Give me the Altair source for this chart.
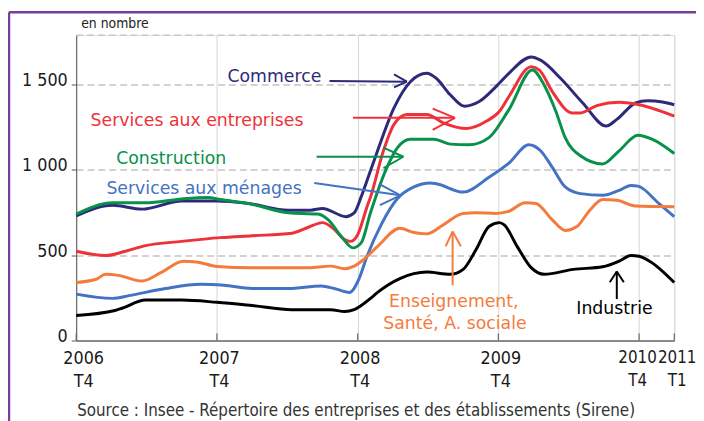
import altair as alt
import pandas as pd

# ---- data (x = months since 2006 T4 / Oct 2006, y = number) ----
commerce_m = [0, 3.1, 5.6, 9, 12, 14.7, 18.1, 20, 21, 23, 23.7, 24.3, 25.1, 25.7, 27.1, 28.5, 29.9, 30.7, 31.9, 33.1, 34.4, 35.8, 36.9, 38.8, 39.6, 41.3, 43.2, 45.2, 46.1, 47.7, 48.7, 50, 51]
commerce_v = [730, 793, 770, 818, 818, 803, 764, 764, 774, 726, 748, 842, 996, 1112, 1363, 1517, 1566, 1537, 1440, 1373, 1402, 1488, 1566, 1662, 1643, 1537, 1392, 1257, 1296, 1392, 1405, 1398, 1382]

entreprises_m = [0, 2.5, 4.2, 5.9, 9, 12.3, 15, 18.4, 19.8, 21, 21.9, 22.9, 23.4, 24, 24.8, 25.1, 26.2, 27.1, 28.2, 29.9, 31.3, 33.3, 35, 36.1, 36.9, 38.8, 39.5, 40.6, 42.3, 43, 44.4, 46.3, 47.7, 51]
entreprises_v = [523, 498, 523, 556, 581, 603, 614, 629, 664, 691, 658, 591, 581, 620, 784, 842, 1112, 1267, 1325, 1325, 1276, 1243, 1286, 1344, 1430, 1604, 1585, 1459, 1334, 1334, 1377, 1396, 1386, 1315]

construction_m = [0, 3.1, 5.9, 9, 11.2, 12.3, 14.7, 18.1, 20.6, 21.5, 22.6, 23.6, 24.3, 25.1, 26.5, 27.4, 28.5, 30.5, 31.9, 33.5, 35.2, 36.9, 38.9, 39.9, 40.9, 41.7, 43, 44.9, 46.3, 47.9, 49.1, 51]
construction_v = [741, 807, 807, 830, 838, 826, 803, 749, 741, 707, 610, 543, 572, 750, 1015, 1131, 1180, 1180, 1151, 1147, 1189, 1353, 1585, 1498, 1344, 1189, 1083, 1035, 1112, 1203, 1180, 1096]

menages_m = [0, 3.1, 4.5, 7.6, 10.6, 12.6, 15, 18.1, 20.9, 22, 23.3, 24.1, 24.8, 26, 27.4, 28.8, 30.2, 30.7, 33, 35.2, 36.9, 38.6, 39.6, 40.6, 41.7, 43, 44.9, 46.3, 47.3, 47.9, 49.7, 51]
menages_v = [272, 247, 263, 305, 330, 324, 305, 305, 320, 305, 282, 359, 494, 678, 832, 900, 923, 919, 870, 957, 1040, 1147, 1112, 1015, 900, 861, 851, 880, 909, 905, 803, 726]

enseignement_m = [0, 1.7, 2.5, 3.6, 5.6, 7.3, 9.1, 10.4, 12, 15, 19.8, 21.7, 22.9, 23.7, 24.6, 25.7, 27.6, 28.8, 29.9, 31.3, 33, 34.1, 35.8, 36.8, 38.3, 39.2, 40.6, 41.7, 42.7, 43.8, 44.9, 46.1, 47.7, 51]
enseignement_v = [340, 359, 388, 382, 349, 401, 465, 459, 434, 427, 427, 436, 421, 436, 480, 552, 658, 633, 625, 678, 745, 749, 745, 755, 807, 803, 707, 645, 668, 764, 826, 822, 788, 784]

industrie_m = [0, 3.3, 3.9, 5.9, 9, 12, 15, 18.4, 21.7, 22.9, 23.7, 24.3, 25.1, 25.7, 27.6, 29.9, 31.9, 33, 34.1, 35.2, 36.1, 36.5, 37.6, 38.8, 39.9, 42.4, 44.9, 46.3, 47.3, 48, 48.9, 51]
industrie_v = [147, 176, 189, 237, 237, 224, 205, 181, 181, 170, 181, 205, 247, 282, 363, 401, 388, 417, 533, 668, 691, 678, 552, 427, 388, 417, 432, 465, 498, 494, 465, 340]

series_names = ["Commerce", "Services aux entreprises", "Construction",
                "Services aux ménages", "Enseignement, Santé, A. sociale", "Industrie"]
series_colors = ["#2e2a7a", "#ee3239", "#07914a", "#4472c4", "#f47b3c", "#000000"]
series_m = [commerce_m, entreprises_m, construction_m, menages_m, enseignement_m, industrie_m]
series_v = [commerce_v, entreprises_v, construction_v, menages_v, enseignement_v, industrie_v]

tick_months = [0, 12, 24, 36, 48, 51]
tick_labels = [["2006", "T4"], ["2007", "T4"], ["2008", "T4"], ["2009", "T4"], ["2010", "T4"], ["2011", "T1"]]
y_ticks = [0, 500, 1000, 1500]

# annotation labels (data coordinates)
annot_text = ["Commerce", "Services aux entreprises", "Construction", "Services aux ménages",
              "Enseignement,", "Santé, A. sociale", "Industrie"]
annot_m = [16.9, 10.3, 8.1, 10.9, 32.2, 32.3, 45.9]
annot_v = [1517, 1257, 1035, 857, 195, 70, 156]
annot_series = [0, 1, 2, 3, 4, 4, 5]

# arrows: series index, start (m, v), tip (m, v), two wing points
arrow_series = [0, 1, 2, 3, 4, 5]
arrow_start = [(21.6, 1521), (23.6, 1305), (20.5, 1077), (20.3, 923), (32.1, 324), (46.1, 243)]
arrow_tip = [(28.2, 1517), (32.3, 1305), (27.9, 1077), (27.65, 851), (32.1, 639), (46.1, 405)]
arrow_wing1 = [(27.1, 1560), (30.4, 1359), (26.2, 1131), (25.9, 915), (31.5, 552), (45.5, 342)]
arrow_wing2 = [(27.1, 1483), (30.4, 1234), (26.2, 1011), (25.9, 793), (32.8, 552), (46.7, 342)]

source_text = "Source : Insee - Répertoire des entreprises et des établissements (Sirene)"
unit_text = "en nombre"

# ---- build tables ----
rows = []
for name, ms, vs in zip(series_names, series_m, series_v):
    for m, v in zip(ms, vs):
        rows.append({"serie": name, "m": m, "v": v})
df = pd.DataFrame(rows)

ann = pd.DataFrame({"text": annot_text, "m": annot_m, "v": annot_v,
                    "serie": [series_names[i] for i in annot_series]})

segs = []
for i, s, t, w1, w2 in zip(arrow_series, arrow_start, arrow_tip, arrow_wing1, arrow_wing2):
    for a in (s, w1, w2):
        segs.append({"serie": series_names[i], "m": a[0], "v": a[1], "m2": t[0], "v2": t[1]})
segdf = pd.DataFrame(segs)

ticks_df = pd.DataFrame({"m": tick_months})
one = pd.DataFrame({"a": [0]})

label_expr = "''"
for tm, tl in reversed(list(zip(tick_months, tick_labels))):
    label_expr = f"datum.value == {tm} ? ['{tl[0]}', '{tl[1]}'] : ({label_expr})"

FONT_AX = "DejaVu Sans Condensed, DejaVu Sans, sans-serif"
FONT_ANN = "DejaVu Sans, sans-serif"

xscale = alt.Scale(domain=[0, 51], nice=False, zero=False)
yscale = alt.Scale(domain=[0, 1790], nice=False)
color = alt.Color("serie:N", scale=alt.Scale(domain=series_names, range=series_colors), legend=None)

xaxis = alt.Axis(values=tick_months, labelExpr=label_expr, ticks=False, grid=True,
                 gridColor="#d6d6d6", gridWidth=1, domainColor="#8a8a8a", domainWidth=2,
                 labelFont=FONT_AX, labelColor="#1a1a1a", labelPadding=9,
                 labelFontSize={"condition": {"test": "datum.value >= 48", "value": 17}, "value": 18},
                 labelLineHeight=24, labelFlush=False, labelOverlap=False, labelBaseline="top",
                 labelOffset={"condition": [{"test": "datum.value == 0", "value": 7},
                                            {"test": "datum.value == 48", "value": -2},
                                            {"test": "datum.value == 51", "value": 2.5}],
                              "value": 2},
                 title=None)
yaxis = alt.Axis(values=y_ticks, labelExpr="replace(format(datum.value, ','), ',', ' ')",
                 grid=True, gridDash=[7, 4], gridColor="#c4c4c4", gridWidth=1.3,
                 domainColor="#555555", tickColor="#555555", tickSize=5, labelPadding=4,
                 labelFont=FONT_AX, labelFontSize=18, labelColor="#1a1a1a", labelOffset=-4,
                 title=None)

X = alt.X("m:Q", scale=xscale, axis=xaxis)
Y = alt.Y("v:Q", scale=yscale, axis=yaxis)

lines = alt.Chart(df).mark_line(strokeWidth=3, interpolate="monotone").encode(
    x=X, y=Y, color=color, detail="serie:N",
)

arrows = alt.Chart(segdf).mark_rule(strokeWidth=2).encode(
    x=X, y=Y, x2="m2:Q", y2="v2:Q", color=color,
)

labels = alt.Chart(ann).mark_text(font=FONT_ANN, fontSize=17.5, align="center", baseline="alphabetic").encode(
    x=X, y=Y, text="text:N", color=color,
)

inner_ticks = alt.Chart(ticks_df).mark_rule(color="#666666", strokeWidth=1.2).encode(
    x=X, y=alt.value(309), y2=alt.value(302),
)

top_border = alt.Chart(one).mark_rule(color="#c4c4c4", strokeWidth=1.3, strokeDash=[7, 4]).encode(
    x=alt.value(0), x2=alt.value(605), y=alt.value(0))

frame_top = alt.Chart(one).mark_rule(color="#7a3d9c", strokeWidth=2.5).encode(
    x=alt.value(-68), x2=alt.value(640), y=alt.value(-23))
frame_left = alt.Chart(one).mark_rule(color="#7a3d9c", strokeWidth=2.5).encode(
    x=alt.value(-68), y=alt.value(-23), y2=alt.value(400))

unit = alt.Chart(one).mark_text(text=unit_text, font=FONT_AX, fontSize=14, align="left",
                                baseline="alphabetic", color="#222222").encode(
    x=alt.value(5), y=alt.value(-7))
source = alt.Chart(one).mark_text(text=source_text, font=FONT_AX, fontSize=17, align="left",
                                  baseline="alphabetic", color="#333333").encode(
    x=alt.value(1), y=alt.value(385))

chart = alt.layer(lines, top_border, inner_ticks, arrows, labels, unit, source, frame_top, frame_left).properties(
    width=605, height=309,
    autosize=alt.AutoSizeParams(type="none"),
    padding={"left": 69, "top": 25, "right": 22, "bottom": 79},
).configure_view(stroke=None).configure(background="white")

chart.save("out.html", embed_options={"renderer": "svg", "actions": False})
